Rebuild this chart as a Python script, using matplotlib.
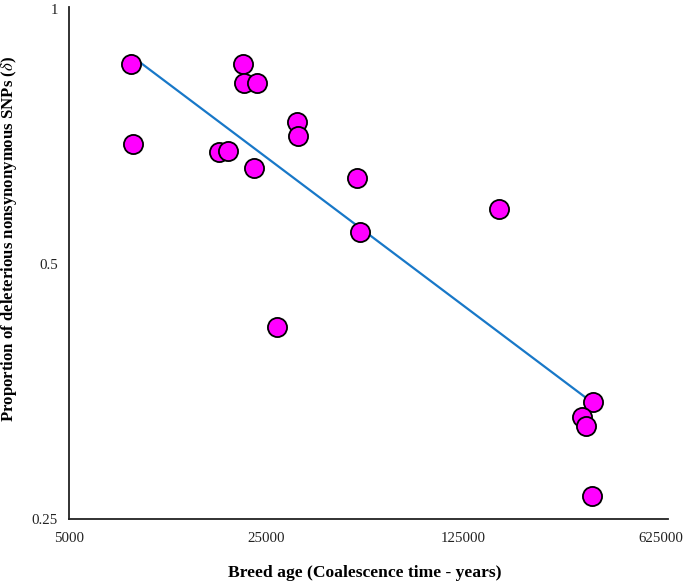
import numpy as np
import matplotlib
matplotlib.use("Agg")
import matplotlib.pyplot as plt
from matplotlib.ticker import FixedLocator, FixedFormatter, NullLocator

# Data (breed age in years, proportion of deleterious nonsynonymous SNPs)
breed_age = [8290, 8420, 20650, 20810, 23140, 16980, 18270, 22580, 27240,
             32060, 32320, 52570, 54000, 167500, 360500, 330500, 341500, 358500]
delta = [0.861, 0.693, 0.861, 0.818, 0.818, 0.678, 0.680, 0.649, 0.421,
         0.736, 0.708, 0.632, 0.546, 0.580, 0.344, 0.330, 0.322, 0.266]

x_ticks = [5000, 25000, 125000, 625000]
x_tick_labels = ["5000", "25000", "125000", "625000"]
y_ticks = [0.25, 0.5, 1]
y_tick_labels = ["0.25", "0.5", "1"]

plt.rcParams['font.family'] = ['Liberation Serif', 'DejaVu Serif']
plt.rcParams['mathtext.fontset'] = 'stix'

fig = plt.figure(figsize=(6.85, 5.85), dpi=100)
ax = fig.add_axes([69/685, 1-519/585, (668-69)/685, (519-7)/585])

ax.set_xscale('log')
ax.set_yscale('log')

# power-law trendline (least squares in log-log space)
lx = np.log(np.array(breed_age, dtype=float))
ly = np.log(np.array(delta, dtype=float))
b, a = np.polyfit(lx, ly, 1)
xs = np.array([min(breed_age), max(breed_age)], dtype=float)
ax.plot(xs, np.exp(a) * xs ** b, color='#1878C8', lw=1.6, zorder=2)

ax.scatter(breed_age, delta, s=190, facecolor='#FF00FF', edgecolor='black',
           linewidth=1.3, zorder=3)

ax.set_xlim(5000, 665000)
ax.set_ylim(0.25, 1.005)

ax.xaxis.set_major_locator(FixedLocator(x_ticks))
ax.xaxis.set_major_formatter(FixedFormatter(x_tick_labels))
ax.xaxis.set_minor_locator(NullLocator())
ax.yaxis.set_major_locator(FixedLocator(y_ticks))
ax.yaxis.set_major_formatter(FixedFormatter(y_tick_labels))
ax.yaxis.set_minor_locator(NullLocator())

ax.tick_params(axis='both', length=0, labelsize=10.7, colors='#222222')
ax.tick_params(axis='x', pad=9)
ax.tick_params(axis='y', pad=8)

for s in ['top', 'right']:
    ax.spines[s].set_visible(False)
for s in ['left', 'bottom']:
    ax.spines[s].set_linewidth(1.3)
    ax.spines[s].set_color('#222222')

ax.set_xlabel('Breed age (Coalescence time - years)', fontsize=12.6,
              fontweight='bold')
ax.xaxis.set_label_coords(0.494, -0.089)
ax.set_ylabel(r'Proportion of deleterious nonsynonymous SNPs ($\delta$)',
              fontsize=12.1, fontweight='bold')
ax.yaxis.set_label_coords(-0.084, 0.547)

fig.savefig('out.png', dpi=100)
